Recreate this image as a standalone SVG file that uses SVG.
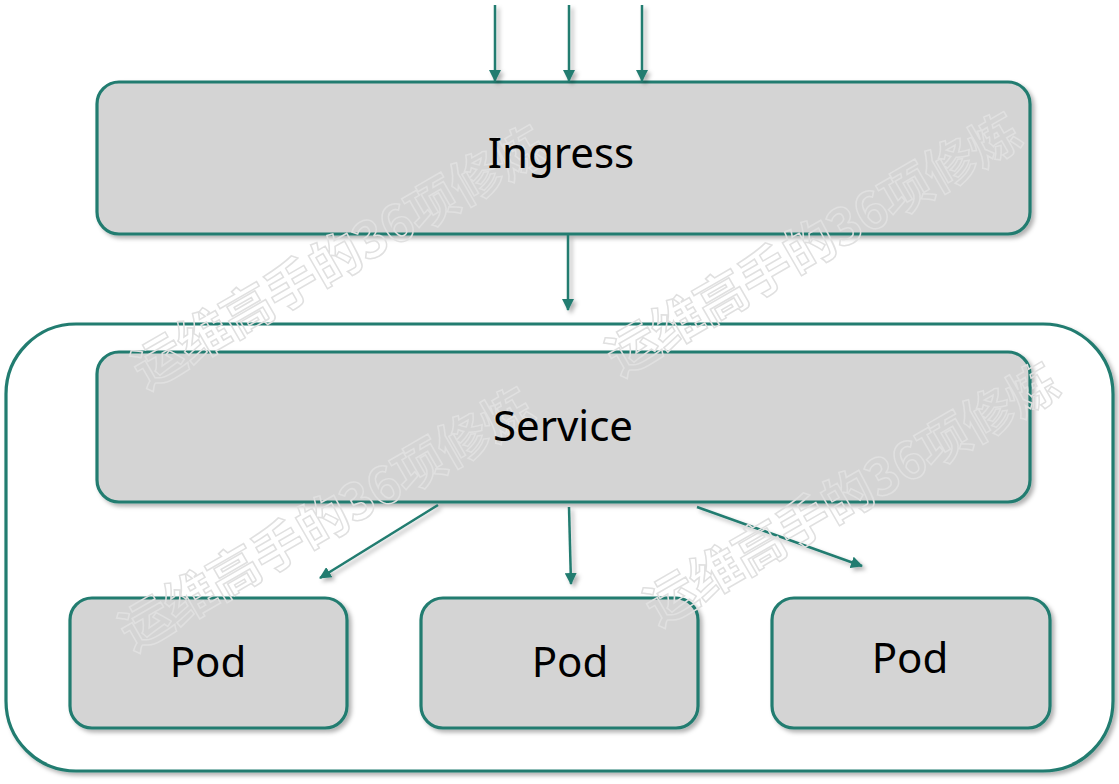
<svg xmlns="http://www.w3.org/2000/svg" width="1119" height="784" viewBox="0 0 1119 784">
  <defs>
    <filter id="sh" filterUnits="userSpaceOnUse" x="0" y="0" width="1119" height="784">
      <feDropShadow dx="3" dy="3" stdDeviation="2" flood-color="#000" flood-opacity="0.3"/>
    </filter>
    <marker id="ah" viewBox="0 0 12 12" refX="11" refY="6" markerWidth="12" markerHeight="12" markerUnits="userSpaceOnUse" orient="auto">
      <path d="M0,0 L12,6 L0,12 z" fill="#217C70"/>
    </marker>
    <style>
      .box { fill: #D4D4D4; stroke: #217C70; stroke-width: 3.2; filter: url(#sh); }
      .outer { fill: #FFFFFF; stroke: #217C70; stroke-width: 3.2; filter: url(#sh); }
      .lbl { font-family: "Noto Sans", "Open Sans", "Liberation Sans", sans-serif; font-size: 42px; fill: #000; text-anchor: middle; }
      .conn { stroke: #217C70; stroke-width: 2.5; fill: none; marker-end: url(#ah); filter: url(#sh); }
      .wm { font-family: "Noto Sans CJK SC", "Noto Sans", sans-serif; font-weight: bold; font-size: 51px; fill: none; stroke: #E0E0E0; stroke-width: 1.5; }
    </style>
  </defs>
  <rect width="1119" height="784" fill="#FFFFFF"/>

  <g id="cluster">
    <rect class="outer" x="6" y="324" width="1107" height="447" rx="70" ry="70"/>
  </g>

  <g id="ingress">
    <rect class="box" x="97" y="82" width="933" height="152" rx="22" ry="22"/>
  </g>

  <g id="service">
    <rect class="box" x="97" y="352" width="933" height="150" rx="22" ry="22"/>
  </g>

  <g id="pod1">
    <rect class="box" x="70" y="598" width="277" height="130" rx="22" ry="22"/>
  </g>
  <g id="pod2">
    <rect class="box" x="421" y="598" width="277" height="130" rx="22" ry="22"/>
  </g>
  <g id="pod3">
    <rect class="box" x="772" y="598" width="278" height="130" rx="22" ry="22"/>
  </g>

  <g id="connectors">
    <line class="conn" x1="495" y1="5" x2="495" y2="81"/>
    <line class="conn" x1="569" y1="5" x2="569" y2="81"/>
    <line class="conn" x1="642" y1="5" x2="642" y2="81"/>
    <line class="conn" x1="568" y1="235" x2="568" y2="310"/>
    <line class="conn" x1="438" y1="505" x2="320" y2="578"/>
    <line class="conn" x1="569" y1="507" x2="571" y2="584"/>
    <line class="conn" x1="697" y1="507" x2="862" y2="566"/>
  </g>

  <g id="watermarks">
    <text class="wm" x="146" y="390" transform="rotate(-30 146 390)">运维高手的36项修炼</text>
    <text class="wm" x="620" y="377" transform="rotate(-30 620 377)">运维高手的36项修炼</text>
    <text class="wm" x="133" y="652" transform="rotate(-30 133 652)">运维高手的36项修炼</text>
    <text class="wm" x="658" y="627" transform="rotate(-30 658 627)">运维高手的36项修炼</text>
  </g>

  <g id="labels">
    <text class="lbl" x="561" y="168">Ingress</text>
    <text class="lbl" x="563" y="441">Service</text>
    <text class="lbl" x="208" y="677">Pod</text>
    <text class="lbl" x="570" y="677">Pod</text>
    <text class="lbl" x="910" y="673">Pod</text>
  </g>
</svg>
